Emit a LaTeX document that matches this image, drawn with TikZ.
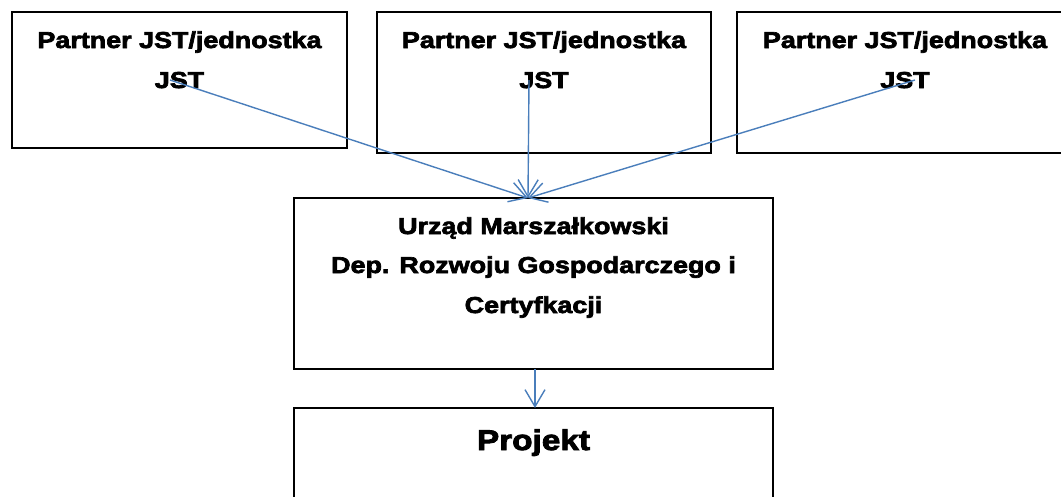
\documentclass[tikz,border=0pt]{standalone}
\usepackage{fontspec}
\usetikzlibrary{arrows.meta}
\newfontfamily\heavy{Liberation Sans}[FakeStretch=1.17,FakeBold=3]
\definecolor{arrblue}{HTML}{4A7EBB}
\begin{document}
\begin{tikzpicture}[x=1pt,y=-1pt,
  box/.style={draw=black,line width=1.7pt,fill=none},
  txt/.style={inner sep=0pt,anchor=base,font=\heavy\bfseries\fontsize{23}{23}\selectfont},
  bigtxt/.style={inner sep=0pt,anchor=base,font=\heavy\bfseries\fontsize{28.5}{28.5}\selectfont},
  arr/.style={draw=arrblue,line width=1.4pt,-{Straight Barb[length=17pt,width=20pt,line width=1.4pt]}}]
\useasboundingbox (0,0) rectangle (1061,496);
\clip (0,0) rectangle (1061,496);
% boxes
\draw[box] (12,12) rectangle (347,148);
\draw[box] (377,12) rectangle (711,153);
\draw[box] (737,12) rectangle (1075,153);
\draw[box] (294,198) rectangle (773,369);
\draw[box] (294,408) rectangle (773,510);
% texts
\node[txt] (t1a) at (179.5,48) {Partner JST/jednostka};
\node[txt] (t1b) at (179.5,88) {JST};
\node[txt] (t2a) at (544,48) {Partner JST/jednostka};
\node[txt] (t2b) at (544,88) {JST};
\node[txt] (t3a) at (905,48) {Partner JST/jednostka};
\node[txt] (t3b) at (905,88) {JST};
\node[txt] (m1) at (533.5,234) {Urząd Marszałkowski};
\node[txt] (m2) at (533.5,273) {Dep. Rozwoju Gospodarczego i};
\node[txt] (m3) at (533.5,313) {Certyfkacji};
\node[bigtxt] (p1) at (533.5,450) {Projekt};
% connector points
\coordinate (s1) at (170,80);
\coordinate (s2) at (529,80);
\coordinate (s3) at (915,80);
\coordinate (tip) at (528,198);
\coordinate (s4) at (535,369);
\coordinate (tip2) at (535,408);
\draw[arr] (s1) -- (tip);
\draw[arr] (s2) -- (tip);
\draw[arr] (s3) -- (tip);
\draw[arr] (s4) -- (tip2);
\end{tikzpicture}
\end{document}
